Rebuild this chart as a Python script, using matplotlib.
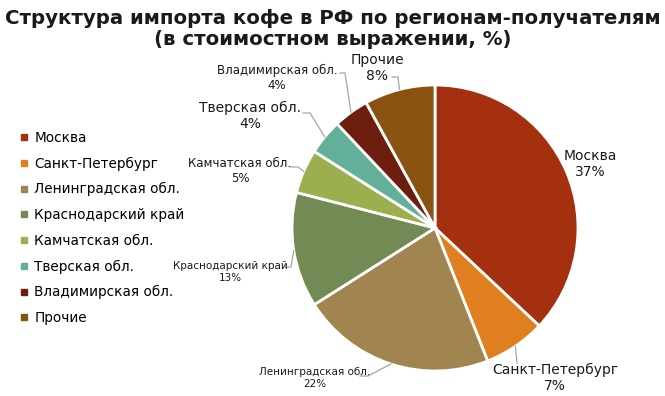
import matplotlib.pyplot as plt
from matplotlib.lines import Line2D
import numpy as np

# данные
regions = ["Москва", "Санкт-Петербург", "Ленинградская обл.", "Краснодарский край",
           "Камчатская обл.", "Тверская обл.", "Владимирская обл.", "Прочие"]
shares = [37, 7, 22, 13, 5, 4, 4, 8]
colors = ["#A5300F", "#E07F1F", "#A08550", "#728B55",
          "#9BAF4F", "#63B09A", "#6E1E0F", "#8A5210"]

W, H = 665, 396
CX, CY, R = 435, 228, 143  # pie centre / radius, pixels from top-left


def py(y):
    # top-origin pixel y -> data y
    return H - y


fig = plt.figure(figsize=(W / 100, H / 100), dpi=100)
ax = fig.add_axes([0, 0, 1, 1])

wedges, _ = ax.pie(shares, colors=colors, startangle=90, counterclock=False,
                   center=(CX, py(CY)), radius=R, frame=True,
                   wedgeprops=dict(edgecolor="white", linewidth=2))
ax.set_xlim(0, W)
ax.set_ylim(0, H)
ax.axis("off")

# label layout: text centre, fontsize, leader start, leader elbow (None = no leader)
label_layout = [
    ((590, 164), 10, None, None),
    ((555, 378), 10, (517, 363), None),
    ((315, 378), 7.5, (360, 376), (368, 376)),
    ((230, 272), 7.5, (285, 267), (291, 267)),
    ((240, 171), 8.5, (290, 167), (298, 167)),
    ((250, 116), 10, (303, 113), (310, 113)),
    ((277, 78), 8.5, (340, 73), (345, 73)),
    ((377, 68), 10, (392, 77), (398, 77)),
]

for w, name, val, (txy, fs, start, elbow) in zip(wedges, regions, shares, label_layout):
    ax.text(txy[0], py(txy[1]), f"{name}\n{val}%", ha="center", va="center",
            fontsize=fs, color="#1a1a1a", linespacing=1.25)
    if start is None:
        continue
    mid = np.deg2rad((w.theta1 + w.theta2) / 2)
    ex, ey = CX + R * np.cos(mid), py(CY) + R * np.sin(mid)
    pts = [start] + ([elbow] if elbow else [])
    xs = [p[0] for p in pts] + [ex]
    ys = [py(p[1]) for p in pts] + [ey]
    ax.plot(xs, ys, color="#a6a6a6", linewidth=0.9)

ax.text(W / 2, py(29), "Структура импорта кофе в РФ по регионам-получателям\n"
        "(в стоимостном выражении, %)", ha="center", va="center",
        fontsize=14.2, fontweight="bold", color="#1a1a1a", linespacing=1.1)

handles = [Line2D([], [], marker="s", linestyle="none", markersize=4.5,
                  markerfacecolor=c, markeredgecolor=c) for c in colors]
fig.legend(handles=handles, labels=regions, loc="center left",
           bbox_to_anchor=(14 / W, py(228) / H), frameon=False, fontsize=9.8,
           handlelength=0.5, handletextpad=0.5,
           labelspacing=0.86, borderpad=0)

fig.savefig("out.png", dpi=100)
